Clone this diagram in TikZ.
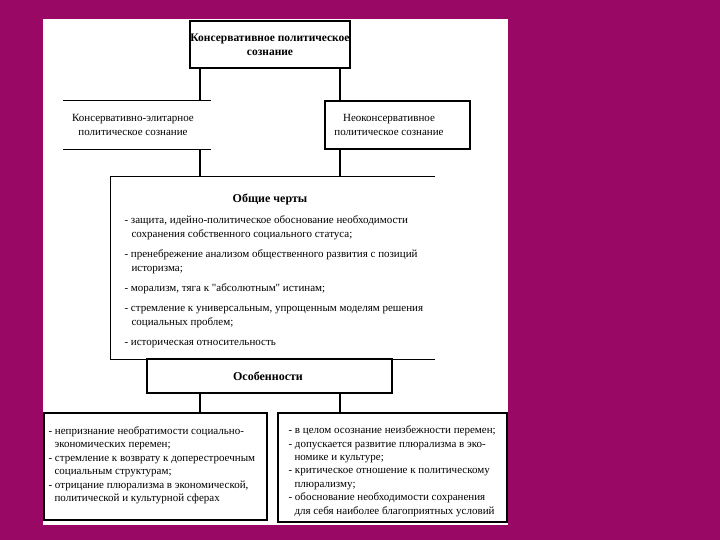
\documentclass[tikz,border=0pt]{standalone}
\usepackage{fontspec}
\setmainfont{Liberation Serif}
\newfontfamily\plainq{Liberation Serif}
\definecolor{bg}{RGB}{152,8,100}
\begin{document}
\begin{tikzpicture}[x=1pt,y=-1pt,
  line width=1.1pt,
  body/.style={inner sep=0pt,align=left,font=\fontsize{11}{14}\selectfont},
  boxtext/.style={inner sep=0pt,align=center,font=\fontsize{11}{14}\selectfont},
  hd/.style={inner sep=0pt,font=\fontsize{12}{14}\selectfont\bfseries}]
\useasboundingbox (0,0) rectangle (720,540);
\fill[bg] (0,0) rectangle (720,540);
\fill[white] (43,19) rectangle (508,525);

% top box
\node[draw,minimum width=160pt,minimum height=47pt,inner sep=0pt,
      font=\fontsize{11.5}{14}\selectfont\bfseries,align=center]
  (top) at (270,44.5) {Консервативное политическое\\сознание};

% second level
\node[minimum width=146pt,minimum height=48pt,inner sep=0pt] (left) at (137,125) {};
\node[boxtext] (lefttxt) at (133,125) {Консервативно-элитарное\\политическое сознание};
\draw (left.north west) -- (left.north east);
\draw (left.south west) -- (left.south east);

\node[draw,minimum width=145pt,minimum height=48pt,inner sep=0pt] (right) at (397.5,125) {};
\node[boxtext] (righttxt) at (389,125) {Неоконсервативное\\политическое сознание};

% big box
\node[minimum width=323pt,minimum height=182pt,inner sep=0pt] (big) at (272.5,268) {};
\draw (big.north east) -- (big.north west) -- (big.south west) -- (big.south east);
\node[hd,anchor=base] (bigtitle) at (270,203) {Общие черты};
\node[body,anchor=base west] (biglist) at (124,345) {%
- защита, идейно-политическое обоснование необходимости\\
\hspace*{7pt}сохранения собственного социального статуса;\\[6pt]
- пренебрежение анализом общественного развития с позиций\\
\hspace*{7pt}историзма;\\[6pt]
- морализм, тяга к {\plainq"}абсолютным{\plainq"} истинам;\\[6pt]
- стремление к универсальным, упрощенным моделям решения\\
\hspace*{7pt}социальных проблем;\\[6pt]
- историческая относительность};

% features
\node[draw,minimum width=245pt,minimum height=34pt,inner sep=0pt] (feat) at (269.5,376) {};
\node[hd,anchor=base] (feattxt) at (268,380) {Особенности};

% bottom boxes
\node[draw,minimum width=223pt,minimum height=107pt,inner sep=0pt] (bl) at (155.5,466.5) {};
\node[draw,minimum width=229pt,minimum height=109pt,inner sep=0pt] (br) at (392.5,467.5) {};
\node[body,anchor=base west,font=\fontsize{11}{13.5}\selectfont] (bltxt) at (48,501.5) {%
- непризнание необратимости социально-\\
\hspace*{6pt}экономических перемен;\\
- стремление к возврату к доперестроечным\\
\hspace*{6pt}социальным структурам;\\
- отрицание плюрализма в экономической,\\
\hspace*{6pt}политической и культурной сферах};
\node[body,anchor=base west,font=\fontsize{11}{13.4}\selectfont] (brtxt) at (288,514) {%
- в целом осознание неизбежности перемен;\\
- допускается развитие плюрализма в эко-\\
\hspace*{6pt}номике и культуре;\\
- критическое отношение к политическому\\
\hspace*{6pt}плюрализму;\\
- обоснование необходимости сохранения\\
\hspace*{6pt}для себя наиболее благоприятных условий};

% connectors
\coordinate (xl) at (200,0);
\coordinate (xr) at (340,0);
\draw (top.south -| xl) -- (left.north -| xl);
\draw (top.south -| xr) -- (right.north -| xr);
\draw (left.south -| xl) -- (big.north -| xl);
\draw (right.south -| xr) -- (big.north -| xr);
\draw (feat.south -| xl) -- (bl.north -| xl);
\draw (feat.south -| xr) -- (br.north -| xr);
\end{tikzpicture}
\end{document}
